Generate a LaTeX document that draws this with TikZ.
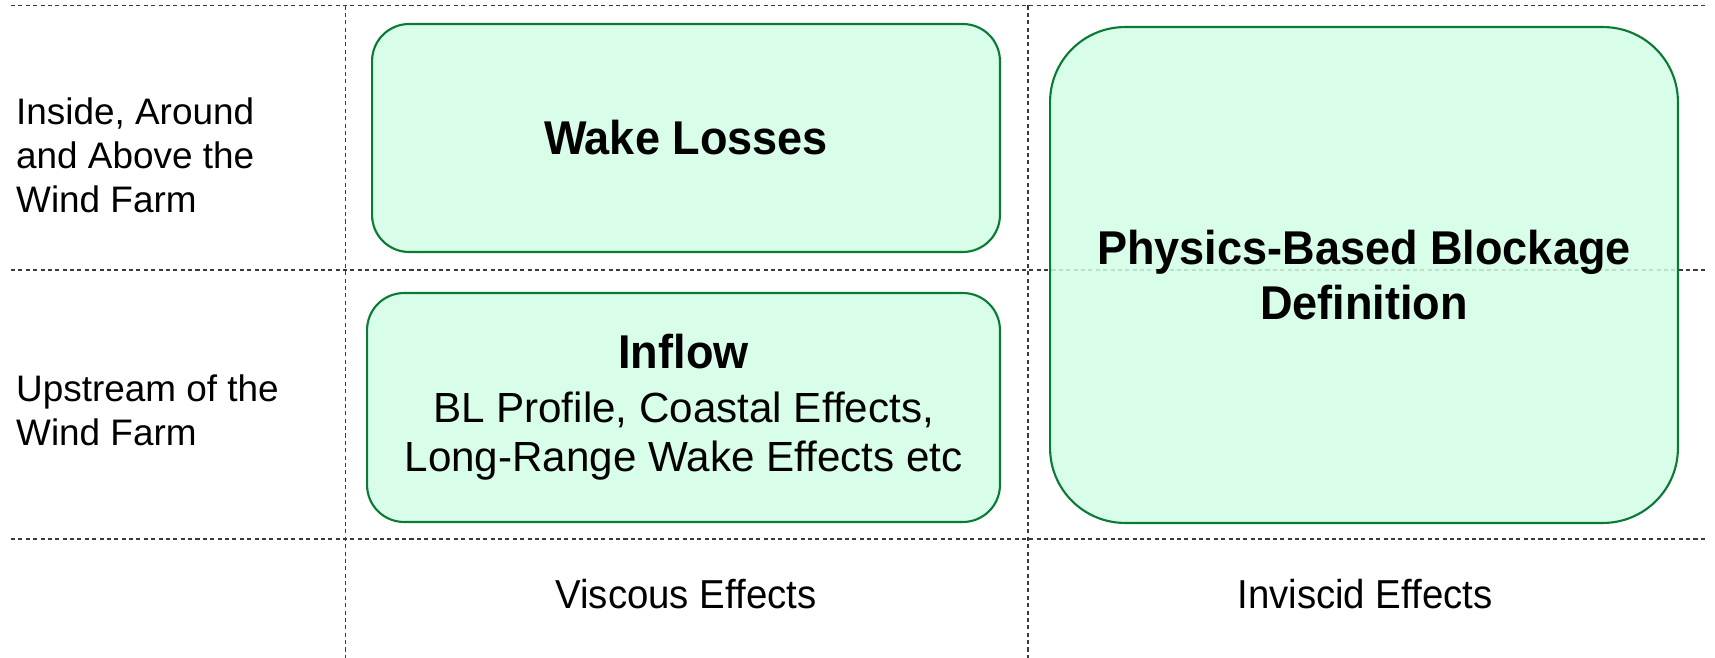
\documentclass[tikz,border=0pt]{standalone}
\usepackage{fontspec}
\setmainfont{Liberation Sans}
\newfontfamily\headfont[FakeStretch=0.95]{Liberation Sans}
\usetikzlibrary{positioning}
\definecolor{gridc}{HTML}{3A3A3A}
\definecolor{boxc}{HTML}{0B7A35}
\definecolor{mintc}{HTML}{D1FDE4}

\begin{document}
\begin{tikzpicture}[
    x=0.02cm,y=-0.02cm,
    grid/.style={draw=gridc,line width=0.6pt,dash pattern=on 2.3pt off 1.9pt},
    region/.style={draw=boxc,line width=1.2pt,fill=mintc,fill opacity=0.85,text opacity=1,
                   align=center,inner sep=0pt,rounded corners=#1},
    region/.default=0.74cm,
    rowlbl/.style={anchor=west,align=left,font=\fontsize{21}{25}\selectfont},
    collbl/.style={font=\headfont\fontsize{23}{27}\selectfont},
    head/.style={font=\headfont\bfseries\fontsize{27}{31}\selectfont},
  ]
\useasboundingbox (0,0) rectangle (1715,658);

% ======================= dashed grid =======================
\foreach \y in {5.5,270,539}
  \draw[grid] (11,\y) -- (1707,\y);
\foreach \x in {345.5,1028}
  \draw[grid] (\x,5.5) -- (\x,658);

% ======================= row / column labels =======================
\node[rowlbl] (rowIn) at (10,155) {Inside, Around\\and Above the\\Wind Farm};
\node[rowlbl] (rowUp) at (10,410) {Upstream of the\\Wind Farm};
\node[collbl] (colVisc) at (686,594) {Viscous Effects};
\node[collbl] (colInv) at (1365,594) {Inviscid Effects};

% ======================= boxes =======================
\node[region,head,minimum width=12.56cm,minimum height=4.56cm] (wake) at (686,138)
  {Wake Losses};
\node[region,minimum width=12.66cm,minimum height=4.58cm,
      font=\fontsize{24}{28}\selectfont] (inflow) at (683.5,407.5)
  {{\headfont\bfseries\fontsize{27}{31}\selectfont Inflow}\\[2.5pt]
   BL Profile, Coastal Effects,\\Long-Range Wake Effects etc};
\node[region=1.5cm,head,minimum width=12.56cm,minimum height=9.92cm] (block) at (1364,275)
  {Physics-Based Blockage\\Definition};

\end{tikzpicture}
\end{document}
